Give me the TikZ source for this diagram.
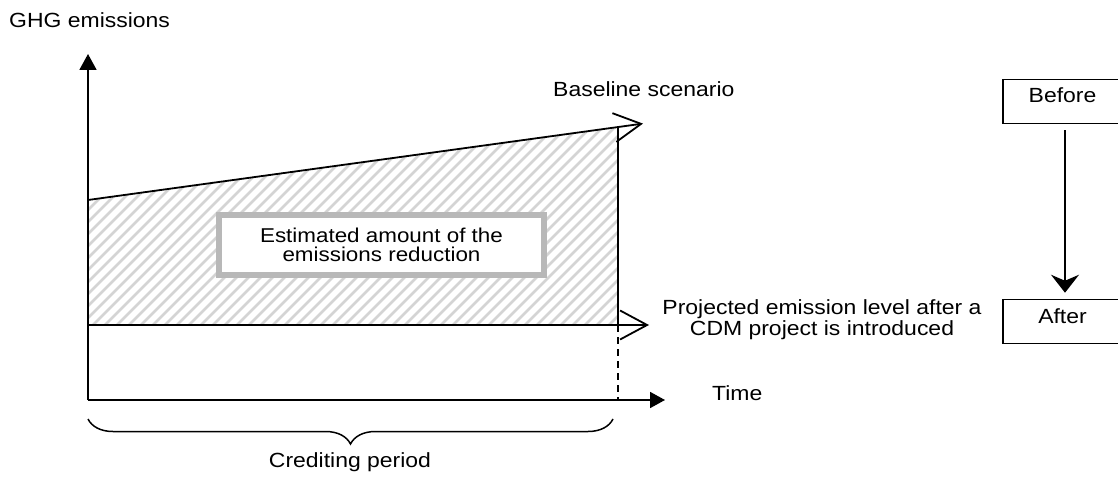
\documentclass[tikz,border=0pt]{standalone}
\usepackage{fontspec}
\setmainfont{Liberation Sans}[FakeStretch=1.12]
\usetikzlibrary{arrows.meta,decorations.pathreplacing}
\begin{document}
\begin{tikzpicture}[x=1pt,y=-1pt,
  axisline/.style={line width=1.8pt,-{Triangle[length=16pt,width=17pt]}},
  curveline/.style={line width=1.8pt,-{Straight Barb[length=27pt,width=29pt]}},
  hatchline/.style={black!17,line width=2.5pt},
  estbox/.style={draw=black!28,line width=5.5pt,fill=white,minimum width=325pt,
    minimum height=60pt,align=center,inner sep=0pt,font=\fontsize{20}{19.5}\selectfont},
  statebox/.style={draw,line width=1.5pt,minimum width=119pt,minimum height=44pt,
    text height=15pt,text depth=12pt,inner sep=0pt,font=\fontsize{20.5}{21}\selectfont},
  lbl/.style={inner sep=0pt,font=\fontsize{20.5}{21}\selectfont},
  downarrow/.style={line width=1.6pt,-{Stealth[length=18pt,width=28pt,inset=6pt]}}]
\useasboundingbox (0,0) rectangle (1118,478);
% key points
\coordinate (O) at (88,400);
\coordinate (Ytop) at (88,54);
\coordinate (Xtip) at (665,400);
\coordinate (B0) at (88,200);
\coordinate (B1) at (618,127);
\coordinate (Btip) at (643,123.6);
\coordinate (P0) at (88,325);
\coordinate (P1) at (618,325);
\coordinate (Ptip) at (649,325);
\coordinate (D1) at (618,400);
\coordinate (BrL) at (88,419);
\coordinate (BrR) at (613,419);
% hatched area
\begin{scope}
  \clip (B0) -- (B1) -- (P1) -- (P0) -- cycle;
  \foreach \i in {-150,-138,...,640} \draw[hatchline] (\i,340) -- ++(240,-240);
\end{scope}
% axes
\draw[axisline] (O) -- (Ytop);
\draw[axisline,-{Triangle[length=15pt,width=16pt]}] (O) -- (Xtip);
% scenario lines
\draw[curveline] (B0) -- (Btip);
\draw[curveline] (P0) -- (Ptip);
\draw[line width=1.8pt] (B1) -- (P1);
\draw[line width=1.8pt,dash pattern=on 7pt off 5pt] (P1) -- (D1);
% estimated box
\node[estbox] (est) at (381.5,245) {Estimated amount of the\\emissions reduction};
% labels
\node[lbl,anchor=base west] (ghg) at (9,28) {GHG emissions};
\node[lbl,anchor=base west] (base) at (553,97) {Baseline scenario};
\node[lbl,anchor=center,align=center] (proj) at (822,319.5) {Projected emission level after a\\CDM project is introduced};
\node[lbl,anchor=base west] (time) at (712,400) {Time};
% brace
\draw[decorate,decoration={brace,amplitude=25pt,mirror},line width=1.5pt] (BrL) -- (BrR);
\node[lbl,anchor=base] (cred) at (350,467) {Crediting period};
% before / after
\node[statebox] (before) at (1062.5,101.5) {Before};
\node[statebox] (after) at (1062.5,321.5) {After};
\draw[downarrow,shorten <=6pt,shorten >=6pt] ([xshift=2.5pt]before.south) -- ([xshift=2.5pt]after.north);
\end{tikzpicture}
\end{document}
